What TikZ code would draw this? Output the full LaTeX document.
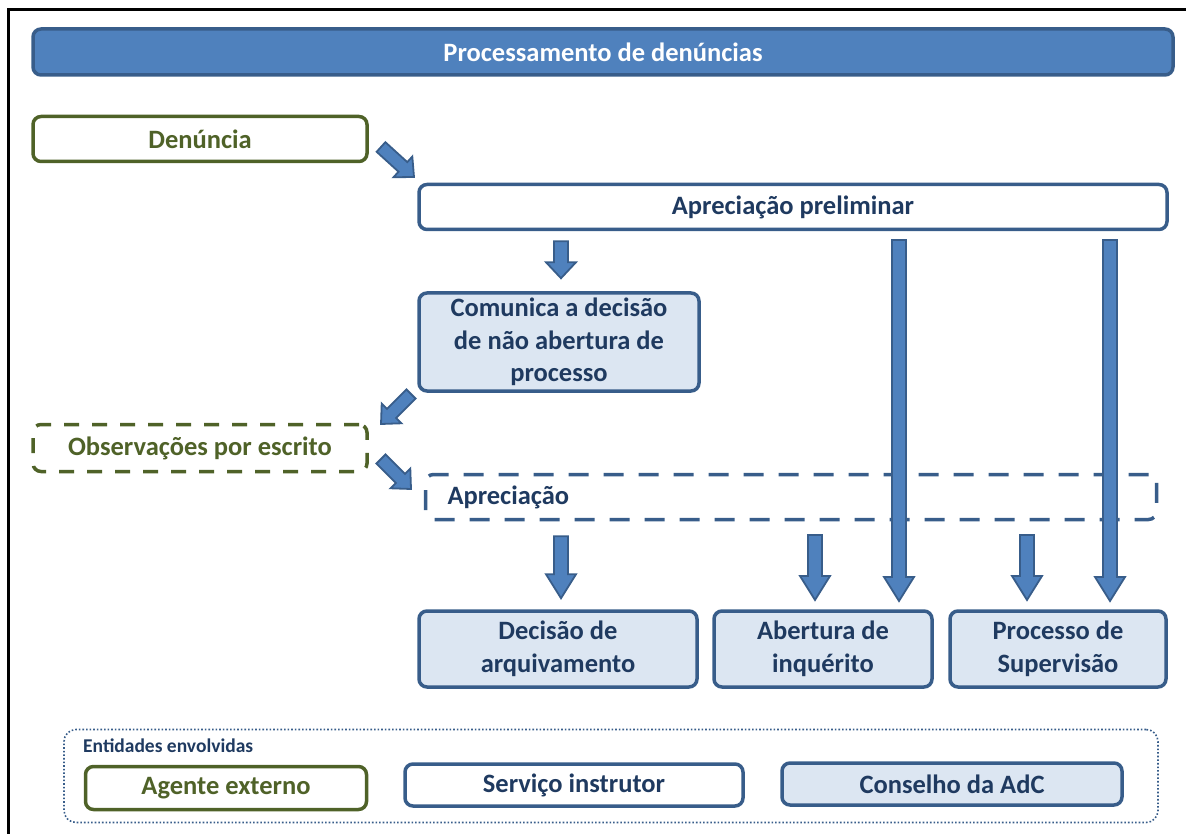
\documentclass[tikz,border=0pt]{standalone}
\usepackage{fontspec}
\setmainfont{Carlito}
\usetikzlibrary{calc}
\definecolor{vblue}{HTML}{4F81BD}
\definecolor{vedge}{HTML}{385D8A}
\definecolor{vlight}{HTML}{DCE6F2}
\definecolor{vgreen}{HTML}{4F6228}
\definecolor{vtext}{HTML}{1F3A60}

\tikzset{
  arrshaft/.store in=\arrshaft, arrshaft=7pt,
  arrhead/.store in=\arrhead, arrhead=15pt,
  arrlen/.store in=\arrlen, arrlen=24pt,
  blockarrow/.style={draw=vedge, fill=vblue, line width=1.8pt,
    to path={let \p1=($(\tikztotarget)!\arrlen!(\tikztostart)$) in
      ($(\tikztostart)!\arrshaft!90:(\tikztotarget)$)
      -- ($(\p1)!\arrshaft!90:(\tikztotarget)$)
      -- ($(\p1)!\arrhead!90:(\tikztotarget)$)
      -- (\tikztotarget)
      -- ($(\p1)!\arrhead!-90:(\tikztotarget)$)
      -- ($(\p1)!\arrshaft!-90:(\tikztotarget)$)
      -- ($(\tikztostart)!\arrshaft!-90:(\tikztotarget)$) -- cycle}},
  diagarrow/.style={blockarrow, arrshaft=6.5pt, arrhead=14pt, arrlen=15pt},
  box/.style={draw=vedge, line width=3.5pt, rounded corners=8pt, fill=white,
    text=vtext, font=\fontsize{26.5}{32.5}\selectfont\bfseries, align=center, inner sep=0pt},
  fillbox/.style={box, fill=vlight},
  greenbox/.style={box, draw=vgreen, text=vgreen},
}

\begin{document}
\begin{tikzpicture}[x=1pt, y=-1pt]
  \useasboundingbox (0,0) rectangle (1186,834);
  \draw[line width=3pt] (1186,10) -- (8,10) -- (8,834);

  % title
  \node[box, fill=vblue, text=white, minimum width=1140, minimum height=46] (title) at (603,52) {Processamento de denúncias};

  % flow
  \node[greenbox, minimum width=334, minimum height=45] (den) at (200,139) {Denúncia};
  \node[box, minimum width=748, minimum height=45] (aprprel) at (793,207) {Apreciação preliminar};
  \node[fillbox, minimum width=280, minimum height=98] (comunica) at (559,342) {Comunica a decisão\\de não abertura de\\processo};
  \node[greenbox, dashed, dash pattern=on 15pt off 13pt, minimum width=334, minimum height=47] (obs) at (200,448) {Observações por escrito};
  \node[box, dash pattern=on 20pt off 15pt, text width=687, align=left, inner xsep=22, minimum height=45] (apr) at (791,497) {Apreciação};
  \node[fillbox, minimum width=278, minimum height=76] (arquivo) at (558,649) {Decisão de\\arquivamento};
  \node[fillbox, minimum width=218, minimum height=76] (inquerito) at (823,649) {Abertura de\\inquérito};
  \node[fillbox, minimum width=216, minimum height=76] (supervisao) at (1058,649) {Processo de\\Supervisão};

  % arrows
  \coordinate (d1s) at (381,147);  \coordinate (d1e) at (414,177);
  \coordinate (d2s) at (411,394);  \coordinate (d2e) at (381,424);
  \coordinate (d3s) at (381,459);  \coordinate (d3e) at (411,489);
  \coordinate (l1s) at (899,240);  \coordinate (l1e) at (899,601);
  \coordinate (l2s) at (1110,240); \coordinate (l2e) at (1110,601);
  \draw[diagarrow] (d1s) to (d1e);
  \draw[diagarrow] (d2s) to (d2e);
  \draw[diagarrow] (d3s) to (d3e);
  \draw[blockarrow, arrlen=16pt] ($(aprprel.south -| comunica.north)+(2,10)$) to ($(comunica.north)+(2,-13)$);
  \draw[blockarrow] (l1s) to (l1e);
  \draw[blockarrow] (l2s) to (l2e);
  \draw[blockarrow] ($(apr.south -| arquivo.north)+(3,15)$) to ($(arquivo.north)+(3,-11)$);
  \draw[blockarrow] (815,535) to (815,600);
  \draw[blockarrow] (1027,535) to (1027,600);

  % legend
  \node[draw=vedge, line width=1.6pt, dotted, rounded corners=12pt, minimum width=1094, minimum height=93] (legend) at (611,776) {};
  \node[anchor=west, text=vtext, font=\fontsize{19.5}{23}\selectfont\bfseries, inner sep=0pt] (legtitle) at (83,746) {Entidades envolvidas};
  \node[greenbox, minimum width=281, minimum height=43] (agente) at (226,788) {Agente externo};
  \node[box, minimum width=338, minimum height=42] (servico) at (574,785) {Serviço instrutor};
  \node[fillbox, minimum width=340, minimum height=42] (conselho) at (952,784) {Conselho da AdC};
\end{tikzpicture}
\end{document}
